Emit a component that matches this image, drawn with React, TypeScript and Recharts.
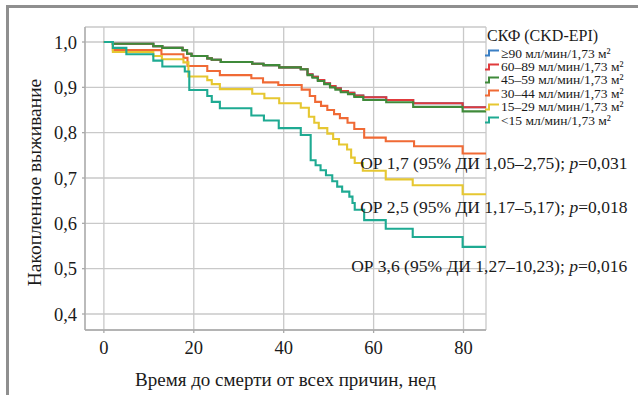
import React from 'react';
import { LineChart, Line, XAxis, YAxis, CartesianGrid, ReferenceDot } from 'recharts';

const FONT = '"Liberation Serif", "Times New Roman", serif';

const xTicks = [0, 20, 40, 60, 80];
const yTicks = [0.4, 0.5, 0.6, 0.7, 0.8, 0.9, 1.0];

const weeksBlue = [0, 2, 11, 13, 17.5, 18.5, 19.5, 23, 24, 26, 33, 35.5, 39, 43.8, 45.3, 46.4, 47.6, 49, 50.3, 51.5, 52.7, 54.3, 55.7, 57.7, 62.8, 68.8, 79.8, 85];
const survBlue = [1.0, 0.996, 0.991, 0.987, 0.982, 0.974, 0.969, 0.964, 0.961, 0.956, 0.952, 0.949, 0.944, 0.94, 0.929, 0.923, 0.916, 0.909, 0.903, 0.898, 0.892, 0.888, 0.882, 0.878, 0.872, 0.865, 0.856, 0.856];

const weeksRed = [0, 2, 11, 13, 17.5, 18.5, 19.5, 23, 24, 26, 33, 35.5, 39, 43.8, 45.3, 46.4, 47.6, 49, 50.3, 51.5, 52.7, 54.3, 55.7, 57.7, 62.8, 68.8, 79.8, 85];
const survRed = [1.0, 0.996, 0.991, 0.987, 0.982, 0.974, 0.969, 0.964, 0.961, 0.956, 0.952, 0.949, 0.944, 0.94, 0.929, 0.923, 0.916, 0.909, 0.903, 0.898, 0.892, 0.888, 0.882, 0.878, 0.872, 0.865, 0.856, 0.856];

const weeksGreen = [0, 2, 11, 13, 17.5, 18.5, 19.5, 23, 24, 26, 33, 35.5, 39, 43.8, 45.3, 46.4, 47.6, 49, 50.3, 51.5, 52.7, 54.3, 55.7, 57.7, 62.8, 68.8, 79.8, 85];
const survGreen = [1.0, 0.996, 0.991, 0.987, 0.982, 0.974, 0.969, 0.964, 0.961, 0.956, 0.952, 0.949, 0.944, 0.94, 0.927, 0.921, 0.914, 0.907, 0.9, 0.895, 0.889, 0.885, 0.879, 0.872, 0.867, 0.857, 0.847, 0.847];

const weeksOrange = [0, 2, 12.8, 17.7, 18.6, 23, 25.8, 32.8, 35.4, 38.8, 44, 45.8, 47, 48.3, 49.7, 51.2, 52.5, 54.2, 55.7, 57.9, 62.7, 69, 79.8, 85];
const survOrange = [1.0, 0.982, 0.973, 0.965, 0.947, 0.936, 0.927, 0.92, 0.911, 0.905, 0.895, 0.881, 0.868, 0.859, 0.85, 0.841, 0.832, 0.822, 0.808, 0.789, 0.781, 0.77, 0.754, 0.754];

const weeksYellow = [0, 2, 11, 12.9, 17.7, 18.8, 23, 24, 25.8, 33, 35.7, 39, 43.8, 45.6, 46.8, 47.8, 49.7, 51, 52.3, 54.1, 55, 55.8, 57.6, 62.7, 68.7, 79.8, 85];
const survYellow = [1.0, 0.978, 0.969, 0.962, 0.955, 0.924, 0.916, 0.907, 0.896, 0.886, 0.876, 0.865, 0.855, 0.835, 0.822, 0.81, 0.798, 0.786, 0.774, 0.763, 0.745, 0.733, 0.716, 0.697, 0.684, 0.664, 0.664];

const weeksTeal = [0, 2, 5, 11, 13, 18, 19, 23, 24, 25.8, 32.8, 35.6, 38.9, 43.8, 46, 47.1, 48.2, 49.4, 50.8, 51.9, 53, 54.6, 55.3, 55.8, 57.9, 62.7, 68.7, 79.8, 85];
const survTeal = [1.0, 0.987, 0.973, 0.959, 0.946, 0.935, 0.894, 0.881, 0.868, 0.854, 0.838, 0.827, 0.81, 0.795, 0.739, 0.728, 0.717, 0.706, 0.693, 0.681, 0.67, 0.659, 0.645, 0.63, 0.607, 0.588, 0.57, 0.548, 0.548];

const seriesNames = [
  '≥90 мл/мин/1,73 м²',
  '60–89 мл/мин/1,73 м²',
  '45–59 мл/мин/1,73 м²',
  '30–44 мл/мин/1,73 м²',
  '15–29 мл/мин/1,73 м²',
  '<15 мл/мин/1,73 м²',
];
const seriesColors = ['#3b7fc4', '#e03a3c', '#3f8a3a', '#f06a35', '#e6c731', '#1eaa92'];
const seriesWeeks = [weeksBlue, weeksRed, weeksGreen, weeksOrange, weeksYellow, weeksTeal];
const seriesSurv = [survBlue, survRed, survGreen, survOrange, survYellow, survTeal];

const legendTitle = 'СКФ (CKD-EPI)';

const annotationWeeks = [57.0, 57.0, 55.0];
const annotationSurv = [0.72, 0.623, 0.493];
const annotationMain = [
  'ОР 1,7 (95% ДИ 1,05–2,75); ',
  'ОР 2,5 (95% ДИ 1,17–5,17); ',
  'ОР 3,6 (95% ДИ 1,27–10,23); ',
];
const annotationP = ['=0,031', '=0,018', '=0,016'];

const xTitle = 'Время до смерти от всех причин, нед';
const yTitle = 'Накопленное выживание';

const series = seriesNames.map((name, i) => ({
  name,
  color: seriesColors[i],
  data: seriesWeeks[i].map((t, j) => ({ t, s: seriesSurv[i][j] })),
}));

const GRID = '#c9c9c9';
const AXIS = '#a9a9a9';
const TEXT = '#1a1a1a';

const fmtY = (v: number) => v.toFixed(1).replace('.', ',');

const LegendBox = () => (
  <div style={{ position: 'absolute', left: 483, top: 26, fontFamily: FONT, color: TEXT }}>
    <div style={{ fontSize: 16, height: 20.5, lineHeight: '20px', paddingLeft: 4, whiteSpace: 'nowrap' }}>{legendTitle}</div>
    {series.map((s) => (
      <div key={s.name} style={{ display: 'flex', alignItems: 'center', height: 13.4, whiteSpace: 'nowrap' }}>
        <svg width={16} height={8} style={{ marginLeft: 2, flex: 'none' }}>
          <path d="M0,6.5 H4 V1.5 H14" fill="none" stroke={s.color} strokeWidth={2} />
        </svg>
        <span style={{ fontSize: 13.5, lineHeight: '13px' }}>{s.name}</span>
      </div>
    ))}
  </div>
);

const makeAnnotationLabel = (i: number) => (props: any) => {
  const vb = props.viewBox || {};
  const x = (vb.x ?? 0) + (vb.width ?? 0) / 2;
  const y = (vb.y ?? 0) + (vb.height ?? 0) / 2;
  return (
    <text x={x} y={y} fontFamily={FONT} fontSize={17.5} fill={TEXT}>
      {annotationMain[i]}
      <tspan fontStyle="italic">p</tspan>
      {annotationP[i]}
    </text>
  );
};

const YTitle = (props: any) => {
  const vb = props.viewBox || { x: 25, y: 27, width: 60, height: 303 };
  const cx = vb.x + 9;
  const cy = vb.y + vb.height / 2 + 4;
  return (
    <text x={cx} y={cy} transform={`rotate(-90, ${cx}, ${cy})`} textAnchor="middle" dominantBaseline="central" fontFamily={FONT} fontSize={19.5} fill={TEXT}>
      {yTitle}
    </text>
  );
};

const XTitle = (props: any) => {
  const vb = props.viewBox || { x: 85, y: 330, width: 401, height: 65 };
  const cx = vb.x + vb.width / 2;
  const cy = vb.y + 56;
  return (
    <text x={cx} y={cy} textAnchor="middle" fontFamily={FONT} fontSize={19} fill={TEXT}>
      {xTitle}
    </text>
  );
};

export default function App() {
  return (
    <div style={{ position: 'absolute', left: 0, top: 0, width: 638, height: 395, background: '#fff', overflow: 'hidden' }}>
      <div style={{ position: 'absolute', left: 6, top: 5, width: 700, height: 500, borderLeft: '3px solid #8f8f8f', borderTop: '3px solid #8f8f8f', boxSizing: 'border-box' }} />
      <div style={{ position: 'absolute', left: 0, top: 0 }}>
        <LineChart width={638} height={395} margin={{ top: 27, right: 152, left: 25, bottom: 0 }}>
          <CartesianGrid stroke={GRID} strokeWidth={1.3} />
          <XAxis
            type="number"
            dataKey="t"
            domain={[-4.2, 85]}
            allowDataOverflow
            ticks={xTicks}
            interval={0}
            tickSize={3}
            tickMargin={8}
            height={65}
            stroke={AXIS}
            strokeWidth={1.3}
            tick={{ fontSize: 18.5, fill: TEXT, fontFamily: FONT }}
            label={<XTitle />}
          />
          <YAxis
            type="number"
            domain={[0.3647, 1.0331]}
            allowDataOverflow
            ticks={yTicks}
            interval={0}
            tickFormatter={fmtY}
            tickSize={3}
            tickMargin={5}
            width={60}
            stroke={AXIS}
            strokeWidth={1.3}
            tick={{ fontSize: 18.5, fill: TEXT, fontFamily: FONT }}
            label={<YTitle />}
          />
          {series.map((s) => (
            <Line
              key={s.name}
              data={s.data}
              dataKey="s"
              name={s.name}
              type="stepAfter"
              stroke={s.color}
              strokeWidth={2.1}
              dot={false}
              activeDot={false}
              isAnimationActive={false}
            />
          ))}
          {annotationMain.map((_, i) => (
            <ReferenceDot
              key={i}
              x={annotationWeeks[i]}
              y={annotationSurv[i]}
              r={1}
              fill="none"
              stroke="none"
              ifOverflow="visible"
              label={makeAnnotationLabel(i)}
            />
          ))}
        </LineChart>
      </div>
      <LegendBox />
    </div>
  );
}
